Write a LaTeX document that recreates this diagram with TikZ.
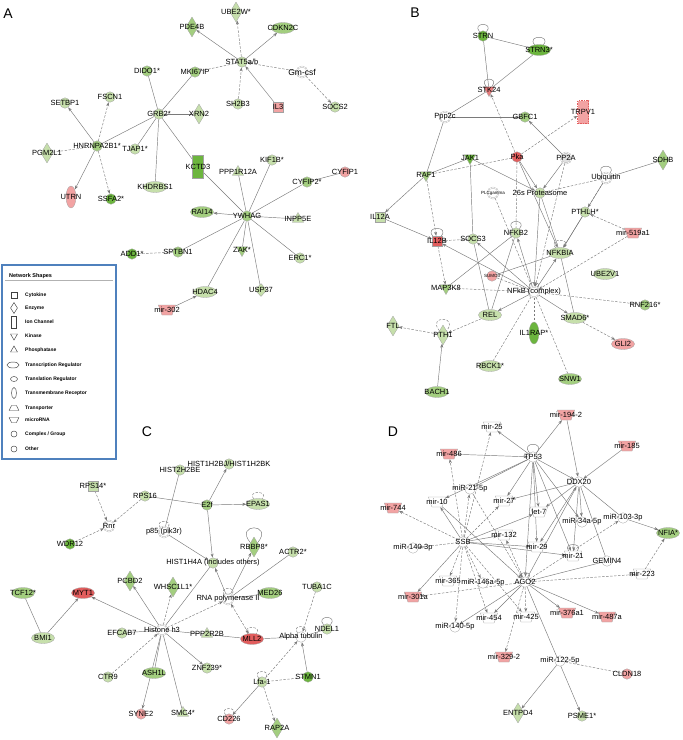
\documentclass[tikz,border=0pt]{standalone}
\usepackage{fontspec}
\setmainfont{Liberation Sans}
\usetikzlibrary{arrows.meta,shapes.geometric,backgrounds}
\definecolor{lgr}{HTML}{C6DFAB}
\definecolor{mgr}{HTML}{A3CE7F}
\definecolor{dgr}{HTML}{6CB53E}
\definecolor{lrd}{HTML}{F2A3A3}
\definecolor{drd}{HTML}{E25D5D}
\definecolor{edg}{HTML}{7A7A7A}
\definecolor{frame}{HTML}{4F81BD}

\begin{document}
\begin{tikzpicture}[x=1pt,y=-1pt,
  every node/.style={font=\fontsize{7.5}{8}\selectfont,inner sep=0pt},
  gn/.style={draw=edg!70,line width=.3pt,fill=#1},
  cir/.style={gn=#1,circle,minimum size=10.5pt},
  grp/.style={gn=#1,circle,minimum size=11pt,double=white,double distance=.7pt},
  ell/.style={gn=#1,ellipse,minimum width=23pt,minimum height=11pt},
  vell/.style={gn=#1,ellipse,minimum width=10pt,minimum height=22pt},
  dia/.style={gn=#1,diamond,minimum width=12pt,minimum height=20pt},
  sq/.style={gn=#1,rectangle,minimum size=10pt},
  ionch/.style={gn=#1,rectangle,minimum width=11pt,minimum height=23pt},
  kin/.style={gn=#1,regular polygon,regular polygon sides=3,shape border rotate=180,minimum size=13pt},
  pho/.style={gn=#1,regular polygon,regular polygon sides=3,minimum size=13pt},
  mir/.style={gn=#1,trapezium,shape border rotate=180,trapezium angle=70,inner sep=1pt,minimum width=12pt,minimum height=10pt},
  lb/.style={label={center:#1}},
  lbs/.style={label={[font=\fontsize{4.5}{5}\selectfont]center:#1}},
  ln/.style={draw=edg,line width=.45pt},
  dl/.style={ln,dash pattern=on 2.5pt off 1.5pt},
  ar/.style={-{Stealth[length=4pt,width=3pt]}},
  lp/.style={loop,out=130,in=50,min distance=#1,-},
  lp/.default=13pt,
  lgi/.style={draw=black!75,line width=.45pt,fill=white},
  lgt/.style={font=\fontsize{5}{6}\selectfont\bfseries,anchor=west}]
\useasboundingbox (0,0) rectangle (683,740);

% panel letters
\node[font=\fontsize{14}{16}\selectfont] (pa) at (8,14) {A};
\node[font=\fontsize{14}{16}\selectfont] (pb) at (415,13) {B};
\node[font=\fontsize{14}{16}\selectfont] (pc) at (147,432) {C};
\node[font=\fontsize{14}{16}\selectfont] (pd) at (393,432) {D};

% ---- A
\node[dia=lgr,lb=UBE2W*] (ube) at (236,12) {};
\node[dia=mgr,lb=PDE4B] (pde) at (192,27) {};
\node[ell=mgr,lb=CDKN2C] (cdk) at (283,28) {};
\node[cir=lgr,lb=STAT5a/b] (stat) at (242,62) {};
\node[grp=white,label={[font=\fontsize{8.5}{9}\selectfont]center:Gm-csf}] (gm) at (302,72) {};
\node[cir=lgr,lb=SOCS2] (socs2) at (335,107) {};
\node[cir=mgr,lb=MKI67IP] (mki) at (195,72) {};
\node[cir=mgr,lb=DIDO1*] (dido) at (147,71) {};
\node[cir=lgr,lb=SH2B3] (sh2) at (238,104) {};
\node[sq=lrd,lb=IL3] (il3) at (278,107) {};
\node[cir=lgr,lb=SETBP1] (setb) at (65,103) {};
\node[cir=lgr,lb=FSCN1] (fscn) at (110,97) {};
\node[cir=lgr,lb=GRB2*] (grb) at (159,114) {};
\node[dia=lgr,lb=XRN2] (xrn) at (199,114) {};
\node[cir=mgr,lb=HNRNPA2B1*] (hnr) at (97,146) {};
\node[cir=lgr,lb=TJAP1*] (tjap) at (135,149) {};
\node[dia=lgr,lb=PGM2L1] (pgm) at (47,153) {};
\node[ionch=dgr,lb=KCTD3] (kctd) at (198,167) {};
\node[ell=lgr,lb=KHDRBS1] (khd) at (155,187) {};
\node[vell=lrd,lb=UTRN] (utrn) at (71,197) {};
\node[cir=dgr,lb=SSFA2*] (ssfa) at (111,199) {};
\node[pho=lgr,lb=PPP1R12A] (ppp1) at (238,172) {};
\node[cir=lgr,lb=KIF1B*] (kif) at (272,160) {};
\node[cir=mgr,lb=CYFIP2*] (cyf2) at (307,182) {};
\node[cir=lrd,lb=CYFIP1] (cyf1) at (345,172) {};
\node[cir=mgr,lb=YWHAG] (ywhag) at (247,216) {};
\node[ell=mgr,lb=RAI14] (rai) at (202,212) {};
\node[pho=lgr,lb=INPP5E] (inpp) at (298,219) {};
\node[kin=mgr,lb=ZAK*] (zak) at (242,250) {};
\node[cir=lgr,lb=ERC1*] (erc) at (300,258) {};
\node[cir=mgr,lb=SPTBN1] (sptb) at (178,252) {};
\node[cir=dgr,lb=ADD1*] (add) at (132,254) {};
\node[ell=lgr,lb=HDAC4] (hdac) at (205,292) {};
\node[dia=lgr,minimum height=13pt,lb=USP37] (usp) at (261,290) {};
\node[mir=lrd,lb=mir-302] (m302) at (167,310) {};

% legend
\draw[frame,line width=1.3pt,fill=white] (2,265) rectangle (116,459);
\node[lgt,font=\fontsize{5.5}{6}\selectfont\bfseries] (lgtitle) at (9,276) {Network Shapes};
\draw[black!30,line width=.4pt] (5,280.5) -- (113,280.5);
\node[lgi,rectangle,minimum size=5.5pt] (lg1) at (14,295) {};
\node[lgi,diamond,minimum width=7pt,minimum height=11pt] (lg2) at (14,308) {};
\node[lgi,rectangle,minimum width=5pt,minimum height=12pt] (lg3) at (14,322) {};
\node[lgi,regular polygon,regular polygon sides=3,shape border rotate=180,minimum size=8pt] (lg4) at (14,336) {};
\node[lgi,regular polygon,regular polygon sides=3,minimum size=8pt] (lg5) at (14,350) {};
\node[lgi,ellipse,minimum width=12pt,minimum height=6pt] (lg6) at (13,365) {};
\node[lgi,ellipse,minimum width=7pt,minimum height=5pt] (lg7) at (14,379) {};
\node[lgi,ellipse,minimum width=5pt,minimum height=11pt] (lg8) at (14,393) {};
\node[lgi,trapezium,trapezium angle=65,inner sep=.5pt,minimum width=8pt,minimum height=5pt] (lg9) at (14,408) {};
\node[lgi,trapezium,shape border rotate=180,trapezium angle=65,inner sep=.5pt,minimum width=8pt,minimum height=5pt] (lg10) at (14,420) {};
\node[lgi,circle,minimum size=6pt] (lg11) at (14,434) {};
\node[lgi,circle,minimum size=6pt] (lg12) at (14,449) {};
\foreach \y/\t in {295/Cytokine,308/Enzyme,322/Ion Channel,336/Kinase,350/Phosphatase,
  365/Transcription Regulator,379/Translation Regulator,393/Transmembrane Receptor,
  408/Transporter,420/microRNA,434/{Complex / Group},449/Other}
  \node[lgt] at (25,\y) {\t};

% ---- B
\node[cir=dgr,lb=STRN] (strn) at (483,36) {};
\node[ell=dgr,lb=STRN3*] (strn3) at (539,50) {};
\node[kin=drd!80,lb=STK24] (stk) at (489,90) {};
\node[grp=white,lb=Ppp2c] (ppp2c) at (445,117) {};
\node[cir=mgr,lb=GBFC1] (gbf) at (525,117) {};
\node[ionch=lrd,draw=drd,dash pattern=on 1.5pt off 1pt,lb=TRPV1] (trpv) at (583,112) {};
\node[kin=dgr,lb=JAK1] (jak) at (470,158) {};
\node[cir=drd,lb=Pka] (pka) at (517,157) {};
\node[grp=black!12,lb=PP2A] (pp2a) at (566,158) {};
\node[dia=mgr,lb=SDHB] (sdhb) at (663,160) {};
\node[kin=mgr,lb=RAF1] (raf) at (426,175) {};
\node[grp=white,lb=Ubiquitin] (ubq) at (606,178) {};
\node[grp=white,lbs=PLCgamma] (plc) at (493,193) {};
\node[cir=lgr,lb=26s Proteasome] (prot) at (540,193) {};
\node[sq=lgr,lb=IL12A] (il12a) at (380,217) {};
\node[cir=lgr,lb=PTHLH*] (pthlh) at (585,212) {};
\node[mir=lrd,lb=mir-519a1] (m519) at (633,233) {};
\node[sq=drd,lb=IL12B] (il12b) at (437,241) {};
\node[cir=lgr,lb=SOCS3] (socs3) at (473,239) {};
\node[cir=lgr,lb=NFKB2] (nfkb2) at (516,233) {};
\node[ell=lgr,lb=NFKBIA] (nfkbia) at (560,253) {};
\node[cir=lrd,lbs=SUMO3] (sumo) at (492,276) {};
\node[ell=lgr,lb=UBE2V1] (ube2v) at (605,274) {};
\node[kin=mgr,lb=MAP3K8] (map3) at (446,288) {};
\node[grp=white,lb={NFkB (complex)}] (nfkb) at (534,292) {};
\node[cir=mgr,lb=RNF216*] (rnf) at (645,305) {};
\node[ell=lgr,lb=REL] (rel) at (490,315) {};
\node[ell=lgr,lb=SMAD6*] (smad) at (575,318) {};
\node[dia=lgr,lb=FTL] (ftl) at (393,326) {};
\node[dia=lgr,lb=PTH1] (pth1) at (443,335) {};
\node[vell=dgr,lb=IL1RAP*] (il1rap) at (534,333) {};
\node[ell=lrd,lb=GLI2] (gli) at (623,344) {};
\node[ell=lgr,lb=RBCK1*] (rbck) at (490,366) {};
\node[ell=mgr,lb=SNW1] (snw) at (570,379) {};
\node[ell=mgr,lb=BACH1] (bach) at (437,392) {};

% ---- C
\node[cir=lgr,lb=HIST1H2BJ/HIST1H2BK] (h2bj) at (229,464) {};
\node[cir=lgr,lb=HIST2H2BE] (h2be) at (180,470) {};
\node[sq=lgr,lb=RPS14*] (rps14) at (93,486) {};
\node[cir=lgr,lb=RPS16] (rps16) at (145,496) {};
\node[cir=mgr,lb=E2f] (e2f) at (207,505) {};
\node[ell=lgr,lb=EPAS1] (epas) at (258,504) {};
\node[grp=white,lb=Rnr] (rnr) at (109,526) {};
\node[grp=white,lb={p85 (pik3r)}] (p85) at (164,532) {};
\node[cir=dgr,lb=WDR12] (wdr) at (70,544) {};
\node[dia=mgr,lb=RBBP8*] (rbbp) at (254,547) {};
\node[cir=lgr,lb=ACTR2*] (actr) at (293,552) {};
\node[cir=lgr,lb={HIST1H4A (includes others)}] (h4a) at (213,563) {};
\node[dia=mgr,lb=PCBD2] (pcbd) at (130,581) {};
\node[dia=mgr,lb=WHSC1L1*] (whsc) at (173,587) {};
\node[ell=mgr,lb=TCF12*] (tcf) at (23,593) {};
\node[ell=drd,lb=MYT1] (myt) at (83,593) {};
\node[grp=white,lb={RNA polymerase II}] (rnap) at (228,599) {};
\node[ell=mgr,lb=MED26] (med) at (270,593) {};
\node[cir=lgr,lb=TUBA1C] (tuba) at (317,587) {};
\node[ell=lgr,lb=BMI1] (bmi) at (43,638) {};
\node[cir=lgr,lb=EFCAB7] (efc) at (122,633) {};
\node[grp=white,lb={Histone h3}] (h3) at (162,630) {};
\node[pho=lgr,lb=PPP2R2B] (ppp2r) at (207,634) {};
\node[ell=drd,lb=MLL2] (mll) at (252,639) {};
\node[cir=white,lb={Alpha tubulin}] (atub) at (301,637) {};
\node[cir=lgr,lb=NDEL1] (ndel) at (327,629) {};
\node[cir=lgr,lb=CTR9] (ctr) at (108,677) {};
\node[ell=mgr,lb=ASH1L] (ash) at (154,673) {};
\node[cir=lgr,lb=ZNF239*] (znf) at (207,668) {};
\node[cir=lgr,lb=Lfa-1] (lfa) at (262,682) {};
\node[cir=dgr,lb=STMN1] (stmn) at (308,677) {};
\node[cir=lrd,lb=SYNE2] (syne) at (141,714) {};
\node[pho=lgr,lb=SMC4*] (smc) at (183,713) {};
\node[cir=lrd,lb=CD226] (cd226) at (229,719) {};
\node[dia=mgr,lb=RAP2A] (rap) at (277,728) {};

% ---- D
\node[mir=lrd,lb=mir-194-2] (m1942) at (566,415) {};
\node[mir=white,lb=mir-25] (m25) at (492,427) {};
\node[mir=lrd,lb=mir-185] (m185) at (627,446) {};
\node[mir=lrd,lb=mir-486] (m486) at (449,454) {};
\node[cir=white,lb=TP53] (tp53) at (533,457) {};
\node[cir=white,lb=DDX20] (ddx) at (579,482) {};
\node[cir=white,lb=miR-21-5p] (m215p) at (470,489) {};
\node[mir=white,lb=mir-10] (m10) at (437,502) {};
\node[mir=lrd,lb=mir-744] (m744) at (393,508) {};
\node[mir=white,lb=mir-27] (m27) at (504,501) {};
\node[mir=white,lb=let-7] (let7) at (539,512) {};
\node[cir=white,lb=miR-34a-5p] (m34a) at (582,522) {};
\node[cir=white,lb=miR-103-3p] (m103) at (623,518) {};
\node[ell=mgr,lb=NFIA*] (nfia) at (668,533) {};
\node[mir=white,lb=mir-132] (m132) at (504,535) {};
\node[cir=white,lb=SSB] (ssb) at (463,542) {};
\node[mir=white,lb=mir-29] (m29) at (537,547) {};
\node[cir=white,lb=miR-140-3p] (m1403) at (413,548) {};
\node[mir=white,lb=mir-21] (m21) at (573,556) {};
\node[cir=white,lb=GEMIN4] (gemin) at (607,561) {};
\node[mir=white,lb=mir-223] (m223) at (642,574) {};
\node[cir=white,lb=AGO2] (ago) at (525,582) {};
\node[mir=white,lb=mir-365] (m365) at (448,581) {};
\node[cir=white,lb=miR-146a-5p] (m146) at (483,583) {};
\node[mir=lrd,lb=mir-301a] (m301) at (413,597) {};
\node[mir=lrd,lb=mir-376a1] (m376) at (567,613) {};
\node[mir=lrd,lb=mir-487a] (m487) at (607,617) {};
\node[mir=white,lb=mir-454] (m454) at (489,618) {};
\node[mir=white,lb=mir-425] (m425) at (526,617) {};
\node[cir=white,lb=miR-140-5p] (m1405) at (455,627) {};
\node[mir=lrd,lb=mir-329-2] (m329) at (504,657) {};
\node[cir=white,lb=miR-122-5p] (m122) at (560,661) {};
\node[cir=lrd,lb=CLDN18] (cldn) at (627,674) {};
\node[dia=lgr,lb=ENTPD4] (entpd) at (518,713) {};
\node[cir=lgr,lb=PSME1*] (psme) at (582,716) {};

\begin{scope}[on background layer]
% A
\foreach \a/\b in {grb/mki,grb/dido,grb/xrn,grb/hnr,grb/tjap,grb/khd,grb/kctd,kctd/ywhag,
  ppp1/ywhag,kif/ywhag,cyf2/ywhag,cyf2/cyf1,ywhag/inpp,ywhag/zak,ywhag/erc,ywhag/usp,
  ywhag/hdac,ywhag/sptb}
  \draw[ln] (\a) -- (\b);
\foreach \a/\b in {stat/pde,stat/cdk,il3/stat,hnr/setb,hnr/utrn,ywhag/rai,m302/hdac}
  \draw[ln,ar] (\a) -- (\b);
\foreach \a/\b in {pgm/hnr,sptb/add,mki/stat}
  \draw[dl] (\a) -- (\b);
\foreach \a/\b in {stat/ube,sh2/stat,gm/stat,gm/socs2,hnr/fscn,hnr/ssfa}
  \draw[dl,ar] (\a) -- (\b);
% B
\foreach \a/\b in {strn/strn3,strn/stk,strn3/stk,stk/ppp2c,ppp2c/gbf,ppp2c/raf,jak/raf,
  ubq/sdhb,jak/socs3,sumo/nfkbia,smad/nfkbia,nfkb2/rel,nfkb2/map3,socs3/rel,prot/nfkbia}
  \draw[ln] (\a) -- (\b);
\foreach \a/\b in {pp2a/gbf,raf/il12a,jak/prot,pka/prot,pka/nfkbia,pp2a/prot,ubq/nfkbia,
  prot/nfkb,pthlh/nfkbia,il12a/il12b,nfkb/il12b,nfkb/socs3,nfkb/nfkb2,nfkb/nfkbia,
  nfkb/rel,nfkb/smad,bach/pth1}
  \draw[ln,ar] (\a) -- (\b);
\foreach \a/\b in {pka/raf,ubq/prot,map3/nfkb,nfkb/rnf,nfkb/il1rap,nfkb/rbck,nfkb/snw,
  plc/nfkb,sumo/nfkb,pka/nfkb2}
  \draw[dl] (\a) -- (\b);
\foreach \a/\b in {pka/stk,pka/trpv,raf/il12b,m519/pthlh,m519/nfkb,ubq/pthlh,socs3/il12b,
  il12b/map3,rel/pth1,pth1/ftl,smad/gli,pp2a/nfkb}
  \draw[dl,ar] (\a) -- (\b);
\foreach \n in {strn,strn3,stk,il12b,nfkb2,ubq}
  \path (\n) edge[ln,lp] (\n);
\path (nfkbia) edge[dl,lp] (nfkbia);
\path (pth1) edge[dl,lp=20pt] (pth1);
\path (nfkb) edge[ln,lp=9pt] (nfkb);
% C
\foreach \a/\b in {rps16/e2f,h2be/p85,h4a/h3,rnap/actr,rnap/med,bmi/tcf,h3/efc,h3/mll,
  mll/atub,atub/ndel,h3/ash,h3/smc}
  \draw[ln] (\a) -- (\b);
\foreach \a/\b in {e2f/h2bj,e2f/epas,e2f/h4a,p85/h4a,rnap/h4a,rnap/rbbp,h3/pcbd,h3/myt,
  bmi/myt,stmn/atub,lfa/cd226,h3/znf,h3/syne}
  \draw[ln,ar] (\a) -- (\b);
\draw[dl] (lfa) -- (stmn);
\foreach \a/\b in {rps14/rnr,rps16/rnr,wdr/rnr,h3/whsc,h3/rnap,tuba/atub,lfa/atub,
  lfa/rap,ctr/h3}
  \draw[dl,ar] (\a) -- (\b);
\draw[dl,{Stealth[length=4pt,width=3pt]}-{Stealth[length=4pt,width=3pt]}] (rnap) -- (mll);
\foreach \n in {epas,p85,rnap,mll,atub,lfa,cd226}
  \path (\n) edge[dl,lp=11pt] (\n);
\path (rbbp) edge[ln,lp=26pt] (rbbp);
\path (ndel) edge[ln,lp] (ndel);
% D
\foreach \a/\b in {tp53/m1942,m1942/ddx,m185/ddx,tp53/m25,m486/tp53,tp53/m215p,tp53/m10,
  tp53/ddx,tp53/m27,tp53/let7,tp53/m29,tp53/m21,tp53/m34a,tp53/ago,ssb/let7,ssb/m132,
  ssb/m21,ssb/m29,ssb/m10,ssb/m301,m10/ago,ddx/m27,ddx/let7,ddx/m29,ddx/m21,ddx/m34a,
  ago/ddx,m103/nfia,ago/m454,ago/m1405,ago/m376,ago/m487,ago/psme,m122/entpd}
  \draw[ln,ar] (\a) -- (\b);
\foreach \a/\b in {ddx/gemin,ago/gemin,ddx/m103}
  \draw[ln] (\a) -- (\b);
\foreach \a/\b in {ssb/m486,ssb/m25,ssb/m744,ssb/m215p,ssb/m27,ssb/m1403,ssb/m365,
  ssb/m146,ssb/m1405,ssb/m454,ssb/m425,ago/m301,ago/m103,ago/m223,ago/m425,ago/m329,
  m223/nfia,m215p/ago,ago/m132}
  \draw[dl,ar] (\a) -- (\b);
\draw[dl] (m122) -- (cldn);
\path (tp53) edge[ln,lp=15pt] (tp53);
\path (m21) edge[ln,lp=11pt] (m21);
\path (ago) edge[ln,lp=9pt] (ago);
\end{scope}
\end{tikzpicture}
\end{document}
